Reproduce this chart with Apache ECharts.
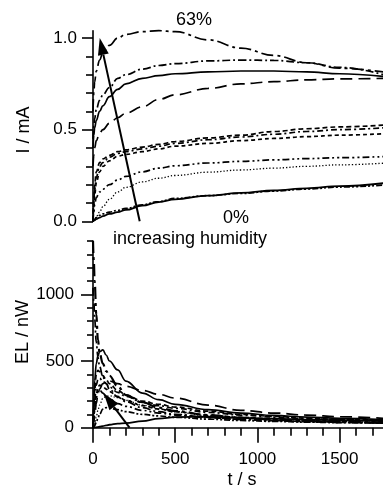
<!DOCTYPE html>
<html>
<head>
<meta charset="utf-8">
<script src="https://cdn.jsdelivr.net/npm/echarts@6/dist/echarts.min.js"></script>
<style>
html,body{margin:0;padding:0;background:#fff;}
#chart{width:383px;height:489px;}
</style>
</head>
<body>
<div id="chart"></div>
<script>
// ---------- DATA ----------
// time grids (s)
const tTop = [0, 5, 10, 20, 40, 60, 100, 150, 200, 300, 400, 500, 700, 900, 1100, 1300, 1500, 1768];
const tBottom = [0, 5, 10, 20, 30, 40, 60, 80, 100, 150, 200, 300, 400, 500, 700, 900, 1100, 1300, 1500, 1768];

// current I / mA (top panel), from highest humidity (63%) to lowest (0%)
const iA = [0.60, 0.70, 0.76, 0.82, 0.88, 0.92, 0.96, 1.00, 1.02, 1.035, 1.04, 1.035, 0.99, 0.945, 0.905, 0.865, 0.835, 0.815];
const iB = [0.45, 0.52, 0.56, 0.61, 0.66, 0.69, 0.73, 0.78, 0.80, 0.83, 0.85, 0.86, 0.875, 0.88, 0.878, 0.865, 0.84, 0.80];
const iC = [0.40, 0.47, 0.51, 0.55, 0.60, 0.63, 0.68, 0.72, 0.75, 0.78, 0.795, 0.805, 0.815, 0.82, 0.82, 0.815, 0.805, 0.79];
const iD = [0.30, 0.36, 0.40, 0.44, 0.48, 0.50, 0.535, 0.565, 0.59, 0.625, 0.665, 0.69, 0.725, 0.75, 0.762, 0.772, 0.777, 0.78];
const iE = [0.0, 0.12, 0.20, 0.27, 0.32, 0.34, 0.36, 0.38, 0.39, 0.405, 0.42, 0.435, 0.455, 0.47, 0.49, 0.505, 0.515, 0.525];
const iF = [0.0, 0.10, 0.17, 0.24, 0.30, 0.32, 0.35, 0.37, 0.38, 0.395, 0.41, 0.425, 0.445, 0.46, 0.475, 0.49, 0.50, 0.51];
const iG = [0.0, 0.08, 0.14, 0.21, 0.27, 0.30, 0.33, 0.355, 0.365, 0.38, 0.395, 0.41, 0.425, 0.44, 0.452, 0.462, 0.47, 0.478];
const iH = [0.0, 0.05, 0.09, 0.13, 0.16, 0.175, 0.20, 0.225, 0.245, 0.27, 0.29, 0.303, 0.318, 0.327, 0.335, 0.342, 0.347, 0.353];
const iI = [0.0, 0.005, 0.012, 0.025, 0.05, 0.08, 0.12, 0.16, 0.185, 0.215, 0.235, 0.25, 0.268, 0.28, 0.29, 0.30, 0.308, 0.317];
const iJ = [0.0, 0.003, 0.006, 0.012, 0.02, 0.028, 0.04, 0.05, 0.062, 0.085, 0.105, 0.12, 0.14, 0.155, 0.168, 0.18, 0.192, 0.208];
const iK = [0.0, 0.005, 0.01, 0.02, 0.032, 0.04, 0.05, 0.06, 0.07, 0.09, 0.108, 0.125, 0.14, 0.152, 0.165, 0.176, 0.187, 0.198];

// electroluminescence EL / nW (bottom panel)
const elA = [1400, 1250, 1100, 850, 660, 560, 480, 425, 390, 310, 245, 190, 150, 125, 95, 75, 60, 50, 42, 35];
const elB = [1050, 950, 820, 640, 530, 460, 380, 330, 290, 230, 195, 150, 120, 100, 78, 62, 52, 45, 40, 35];
const elC = [0, 200, 350, 480, 540, 570, 583, 545, 500, 433, 350, 260, 210, 175, 135, 110, 92, 80, 70, 60];
const elD = [0, 40, 90, 180, 250, 290, 330, 348, 350, 330, 310, 280, 250, 222, 170, 130, 110, 95, 82, 70];
const elE = [0, 150, 280, 400, 430, 420, 390, 360, 330, 280, 245, 200, 175, 155, 125, 100, 85, 72, 62, 55];
const elF = [0, 100, 200, 320, 360, 370, 350, 330, 305, 265, 235, 190, 165, 145, 115, 95, 80, 68, 60, 52];
const elG = [0, 80, 160, 250, 300, 320, 310, 290, 270, 235, 205, 165, 140, 120, 95, 78, 66, 57, 50, 45];
const elH = [0, 60, 130, 220, 270, 283, 260, 235, 215, 180, 160, 130, 110, 95, 75, 62, 53, 46, 41, 36];
const elI = [0, 10, 30, 80, 130, 170, 220, 235, 240, 225, 205, 170, 140, 118, 90, 72, 60, 52, 46, 40];
const elJ = [0, 0, 1, 3, 5, 7, 12, 17, 22, 30, 35, 50, 68, 80, 82, 74, 67, 61, 56, 50];
const elK = [0, 5, 15, 40, 70, 100, 140, 150, 148, 135, 120, 100, 88, 78, 64, 54, 47, 42, 38, 34];

// tick values
const xMajorTicks = [0, 500, 1000, 1500];
const xMinorTicks = [100, 200, 300, 400, 600, 700, 800, 900, 1100, 1200, 1300, 1400, 1600, 1700];
const iMajorTicks = [0, 0.5, 1.0];
const iMinorTicks = [0.1, 0.2, 0.3, 0.4, 0.6, 0.7, 0.8, 0.9];
const elMajorTicks = [0, 500, 1000];
const elMinorTicks = [100, 200, 300, 400, 600, 700, 800, 900, 1100, 1200, 1300, 1400];

// annotation arrows [tailX, tailY, headX, headY] in data units
const arrowTop = [284, 0, 41, 1.0];
const arrowBottom = [222, 0, 65, 258];

// ---------- CHART ----------
const FONT = "'Liberation Sans', Arial, Helvetica, sans-serif";
const chart = echarts.init(document.getElementById('chart'), null, {renderer: 'canvas'});

const styles = [
  {type: [12, 4, 3, 4], width: 1.7},      // A
  {type: [8, 3, 2, 3], width: 1.7},       // B
  {type: 'solid', width: 1.7},            // C
  {type: [12, 6], width: 1.7},            // D
  {type: [5, 3], width: 1.7},             // E
  {type: [6, 3, 2, 3], width: 1.7},       // F
  {type: [4, 3], width: 1.7},             // G
  {type: [7, 3, 2, 3, 2, 3], width: 1.7}, // H
  {type: [1.3, 2], width: 1.3},           // I
  {type: 'solid', width: 1.8},            // J
  {type: [6, 2, 2, 2, 2, 2], width: 1.7}  // K
];
const topSets = [iA, iB, iC, iD, iE, iF, iG, iH, iI, iJ, iK];
const botSets = [elA, elB, elC, elD, elE, elF, elG, elH, elI, elJ, elK];

function pairs(ts, vs) { return ts.map((t, i) => [t, vs[i]]); }

const series = [];
topSets.forEach((vs, k) => {
  series.push({
    type: 'line', xAxisIndex: 0, yAxisIndex: 0,
    data: pairs(tTop, vs), showSymbol: false, symbol: 'none',
    smooth: 0.4, smoothMonotone: 'x', clip: false, silent: true,
    lineStyle: Object.assign({color: '#000'}, styles[k])
  });
});
botSets.forEach((vs, k) => {
  series.push({
    type: 'line', xAxisIndex: 2, yAxisIndex: 2,
    data: pairs(tBottom, vs), showSymbol: false, symbol: 'none',
    smooth: 0.4, smoothMonotone: 'x', clip: true, silent: true,
    lineStyle: Object.assign({color: '#000'}, styles[k], k === 0 ? {width: 2.2} : {})
  });
});

function arrowRender(params, api) {
  const p1 = api.coord([api.value(0), api.value(1)]);
  const p2 = api.coord([api.value(2), api.value(3)]);
  const dx = p2[0] - p1[0], dy = p2[1] - p1[1];
  const len = Math.sqrt(dx * dx + dy * dy);
  const ux = dx / len, uy = dy / len;
  const headL = 17, headW = 5.5;
  const bx = p2[0] - ux * headL, by = p2[1] - uy * headL;
  const nx = -uy, ny = ux;
  return {
    type: 'group',
    children: [
      {type: 'line', shape: {x1: p1[0], y1: p1[1], x2: bx, y2: by},
       style: {stroke: '#000', lineWidth: 2}},
      {type: 'polygon', shape: {points: [[p2[0], p2[1]], [bx + nx * headW, by + ny * headW], [bx - nx * headW, by - ny * headW]]},
       style: {fill: '#000'}}
    ]
  };
}
series.push({type: 'custom', xAxisIndex: 0, yAxisIndex: 0, clip: false, silent: true,
  data: [arrowTop], renderItem: arrowRender, z: 5});
series.push({type: 'custom', xAxisIndex: 2, yAxisIndex: 2, clip: false, silent: true,
  data: [arrowBottom], renderItem: arrowRender, z: 5});

const labelStyle = {color: '#000', fontSize: 17, fontFamily: FONT};
const axisLineStyle = {show: true, onZero: false, lineStyle: {color: '#000', width: 1.6}};

const topGrid = {left: 93, top: 30.7, width: 291, height: 190.6, outerBoundsMode: 'none', containLabel: false};
const botGrid = {left: 93, top: 241, width: 291, height: 186.7, outerBoundsMode: 'none', containLabel: false};

const option = {
  animation: false,
  backgroundColor: '#fff',
  grid: [topGrid, botGrid],
  xAxis: [
    {type: 'value', gridIndex: 0, min: 0, max: 1770, show: false},
    {type: 'value', gridIndex: 0, min: 0, max: 1770, show: false},
    {type: 'value', gridIndex: 1, min: 0, max: 1770, position: 'bottom', offset: 0,
     axisLine: axisLineStyle, splitLine: {show: false},
     axisTick: {show: true, inside: false, length: 15, customValues: xMajorTicks, lineStyle: {color: '#000', width: 1.6}},
     axisLabel: Object.assign({show: true, margin: 23, customValues: xMajorTicks, formatter: v => String(v)}, labelStyle)},
    {type: 'value', gridIndex: 1, min: 0, max: 1770, position: 'bottom', offset: 0,
     axisLine: {show: false}, splitLine: {show: false},
     axisTick: {show: true, inside: false, length: 8, customValues: xMinorTicks, lineStyle: {color: '#000', width: 1.6}},
     axisLabel: {show: false}}
  ],
  yAxis: [
    {type: 'value', gridIndex: 0, min: 0, max: 1.04, position: 'left', offset: 0,
     axisLine: axisLineStyle, splitLine: {show: false},
     axisTick: {show: true, inside: false, length: 11, customValues: iMajorTicks, lineStyle: {color: '#000', width: 1.6}},
     axisLabel: Object.assign({show: true, margin: 16, customValues: iMajorTicks, formatter: v => v.toFixed(1)}, labelStyle)},
    {type: 'value', gridIndex: 0, min: 0, max: 1.04, position: 'left', offset: 0,
     axisLine: {show: false}, splitLine: {show: false},
     axisTick: {show: true, inside: false, length: 7, customValues: iMinorTicks, lineStyle: {color: '#000', width: 1.6}},
     axisLabel: {show: false}},
    {type: 'value', gridIndex: 1, min: 0, max: 1400, position: 'left', offset: 0,
     axisLine: axisLineStyle, splitLine: {show: false},
     axisTick: {show: true, inside: false, length: 12, customValues: elMajorTicks, lineStyle: {color: '#000', width: 1.6}},
     axisLabel: Object.assign({show: true, margin: 19, customValues: elMajorTicks, formatter: v => String(v)}, labelStyle)},
    {type: 'value', gridIndex: 1, min: 0, max: 1400, position: 'left', offset: 0,
     axisLine: {show: false}, splitLine: {show: false},
     axisTick: {show: true, inside: false, length: 6, customValues: elMinorTicks, lineStyle: {color: '#000', width: 1.6}},
     axisLabel: {show: false}}
  ],
  graphic: [
    {type: 'text', x: 194, y: 20, style: {text: '63%', fill: '#000', font: '18px ' + FONT, align: 'center', verticalAlign: 'middle'}},
    {type: 'text', x: 236, y: 218, style: {text: '0%', fill: '#000', font: '18px ' + FONT, align: 'center', verticalAlign: 'middle'}},
    {type: 'text', x: 190, y: 239, style: {text: 'increasing humidity', fill: '#000', font: '18px ' + FONT, align: 'center', verticalAlign: 'middle'}},
    {type: 'text', x: 24, y: 130, rotation: Math.PI / 2, style: {text: 'I / mA', fill: '#000', font: '18px ' + FONT, align: 'center', verticalAlign: 'middle'}},
    {type: 'text', x: 23, y: 332, rotation: Math.PI / 2, style: {text: 'EL / nW', fill: '#000', font: '18px ' + FONT, align: 'center', verticalAlign: 'middle'}},
    {type: 'text', x: 242, y: 480, style: {text: 't / s', fill: '#000', font: '18px ' + FONT, align: 'center', verticalAlign: 'middle'}}
  ],
  series: series
};
chart.setOption(option);
</script>
</body>
</html>
